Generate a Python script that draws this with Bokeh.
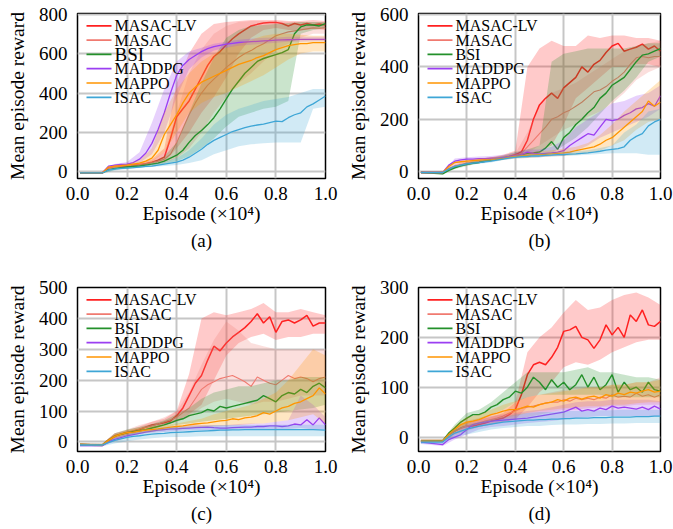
from bokeh.plotting import figure
from bokeh.models import Range1d, FixedTicker, Title, NumeralTickFormatter, Label, BoxAnnotation
from bokeh.layouts import row, column
from bokeh.embed import file_html
from bokeh.resources import INLINE

FONT = "Liberation Serif"
METHODS = ["MASAC-LV", "MASAC", "BSI", "MADDPG", "MAPPO", "ISAC"]
COLORS = ["#ff2020", "#f07a70", "#23902a", "#9b3ff2", "#ff9500", "#3ea6d6"]
WIDTHS = [1.5, 1.1, 1.4, 1.3, 1.3, 1.3]
X_TICKS = [0.0, 0.2, 0.4, 0.6, 0.8, 1.0]

# x positions (x 10^4 episodes) of the mean curves and of the shaded bands
XM = [0.01, 0.1, 0.125, 0.15, 0.175, 0.2, 0.225, 0.25, 0.275, 0.3, 0.325, 0.35, 0.375, 0.4,
      0.425, 0.45, 0.475, 0.5, 0.525, 0.55, 0.575, 0.6, 0.625, 0.65, 0.675, 0.7, 0.725, 0.75,
      0.775, 0.8, 0.825, 0.85, 0.875, 0.9, 0.925, 0.95, 0.975, 1.0]
XB = [0.01, 0.1, 0.15, 0.2, 0.25, 0.3, 0.35, 0.4, 0.45, 0.5, 0.55, 0.6, 0.65, 0.7, 0.75, 0.8,
      0.85, 0.9, 0.95, 1.0]

# ---------------- panel (a) ----------------
a_lv = [-5, -5, 22, 28, 30, 32, 35, 38, 42, 50, 60, 75, 170, 280, 320, 360, 420, 480, 540, 585,
        610, 645, 675, 700, 720, 740, 748, 755, 758, 758, 752, 740, 752, 745, 752, 745, 750, 745]
a_ms = [-5, -5, 22, 27, 30, 32, 35, 38, 42, 48, 55, 65, 90, 150, 220, 290, 350, 400, 440, 470,
        500, 530, 555, 580, 600, 615, 635, 650, 670, 690, 700, 710, 715, 720, 725, 730, 728, 730]
a_bsi = [-5, -5, 12, 18, 22, 25, 28, 30, 35, 40, 45, 55, 70, 85, 110, 150, 185, 210, 240, 275,
         320, 370, 420, 460, 500, 530, 560, 575, 585, 595, 605, 620, 700, 735, 745, 745, 740, 752]
a_ddpg = [-5, -5, 30, 35, 38, 40, 48, 65, 95, 145, 215, 300, 400, 490, 540, 570, 590, 610, 625, 635,
          642, 648, 652, 656, 658, 660, 662, 664, 666, 668, 669, 670, 671, 672, 672, 672, 672, 672]
a_ppo = [-5, -5, 25, 30, 32, 35, 40, 45, 55, 70, 110, 190, 240, 290, 350, 400, 430, 455, 470, 485,
         500, 515, 530, 545, 555, 565, 580, 590, 605, 620, 630, 640, 645, 650, 650, 655, 655, 655]
a_is = [-5, -5, 10, 15, 18, 20, 22, 25, 28, 30, 35, 40, 45, 50, 60, 75, 95, 115, 140, 160,
        175, 190, 205, 215, 225, 232, 238, 242, 250, 258, 255, 275, 290, 300, 330, 345, 365, 385]
a_lv_lo = [-8, -8, 20, 25, 30, 38, 50, 120, 200, 300, 380, 480, 600, 680, 720, 730, 720, 720, 725, 720]
a_lv_hi = [-2, -2, 35, 40, 48, 65, 120, 450, 600, 700, 750, 760, 765, 770, 770, 770, 765, 765, 770, 765]
a_ms_lo = [-8, -8, 20, 25, 28, 35, 45, 70, 120, 200, 300, 380, 450, 500, 560, 620, 650, 680, 700, 700]
a_ms_hi = [-2, -2, 32, 38, 45, 60, 100, 300, 500, 620, 700, 740, 760, 765, 765, 765, 760, 760, 760, 760]
a_bsi_lo = [-8, -8, 10, 18, 22, 30, 40, 55, 80, 120, 170, 230, 280, 300, 320, 330, 360, 700, 720, 730]
a_bsi_hi = [-2, -2, 20, 30, 38, 50, 80, 150, 300, 450, 580, 680, 720, 740, 745, 750, 755, 760, 760, 760]
a_ddpg_lo = [-8, -8, 28, 33, 45, 90, 200, 380, 520, 580, 615, 630, 640, 645, 650, 655, 660, 660, 662, 662]
a_ddpg_hi = [-2, -2, 40, 50, 100, 250, 420, 560, 610, 630, 650, 660, 670, 675, 680, 682, 685, 685, 685, 685]
a_ppo_lo = [-8, -8, 25, 30, 38, 50, 100, 200, 300, 350, 380, 400, 430, 460, 490, 530, 570, 600, 610, 610]
a_ppo_hi = [-2, -2, 35, 42, 60, 120, 300, 420, 500, 560, 600, 630, 650, 670, 690, 700, 700, 695, 690, 690]
a_is_lo = [-8, -8, 8, 15, 20, 25, 30, 35, 45, 60, 90, 110, 130, 140, 145, 150, 150, 150, 320, 330]
a_is_hi = [-2, -2, 20, 25, 32, 40, 50, 70, 110, 170, 240, 290, 320, 340, 360, 370, 380, 400, 420, 420]

# ---------------- panel (b) ----------------
b_lv = [-3, -3, 10, 20, 25, 30, 33, 36, 40, 45, 48, 52, 58, 65, 75, 120, 200, 255, 280, 300,
        280, 320, 340, 360, 400, 380, 410, 425, 455, 480, 490, 460, 468, 475, 487, 468, 480, 460]
b_ms = [-3, -3, 12, 22, 27, 30, 33, 36, 40, 44, 48, 52, 56, 60, 70, 95, 120, 145, 170, 200,
        210, 225, 235, 250, 265, 285, 305, 312, 325, 345, 360, 380, 410, 435, 440, 435, 440, 440]
b_bsi = [-3, -8, 5, 15, 22, 28, 32, 35, 40, 44, 48, 52, 56, 60, 65, 70, 72, 75, 90, 115,
         85, 130, 150, 180, 200, 225, 245, 280, 300, 330, 345, 360, 390, 420, 445, 450, 460, 470]
b_ddpg = [-3, -3, 25, 40, 45, 48, 48, 50, 50, 52, 52, 55, 58, 62, 65, 75, 70, 68, 70, 72,
          75, 80, 100, 115, 130, 145, 140, 170, 200, 195, 200, 215, 225, 240, 245, 260, 250, 290]
b_ppo = [-3, -3, 20, 35, 38, 40, 42, 44, 45, 46, 48, 50, 55, 58, 60, 62, 64, 65, 66, 68,
         70, 72, 75, 80, 85, 90, 95, 105, 120, 130, 150, 170, 190, 210, 230, 270, 250, 265]
b_is = [-3, -3, 10, 20, 25, 30, 33, 35, 38, 40, 44, 48, 52, 55, 57, 58, 60, 60, 62, 63,
        65, 65, 67, 68, 70, 72, 75, 78, 82, 85, 88, 95, 120, 135, 145, 175, 190, 200]
b_lv_lo = [-6, -6, 15, 25, 35, 40, 50, 55, 60, 80, 100, 180, 280, 320, 360, 400, 400, 410, 410, 400]
b_lv_hi = [0, 0, 28, 40, 48, 55, 65, 80, 400, 470, 500, 480, 480, 520, 510, 520, 520, 510, 510, 500]
b_ms_lo = [-6, -6, 15, 25, 35, 40, 48, 55, 70, 100, 130, 160, 180, 210, 230, 260, 300, 350, 380, 400]
b_ms_hi = [0, 0, 28, 38, 45, 52, 60, 70, 150, 250, 300, 320, 340, 370, 400, 430, 460, 480, 490, 500]
b_bsi_lo = [-6, -10, 10, 22, 32, 40, 48, 55, 60, 65, 70, 100, 130, 170, 220, 270, 310, 360, 420, 440]
b_bsi_hi = [0, -2, 22, 35, 45, 52, 62, 75, 85, 100, 420, 450, 460, 470, 470, 470, 470, 480, 490, 490]
b_ddpg_lo = [-6, -6, 30, 40, 42, 45, 48, 55, 55, 55, 60, 60, 80, 100, 130, 150, 170, 190, 210, 240]
b_ddpg_hi = [0, 0, 50, 55, 58, 60, 65, 72, 85, 85, 95, 120, 170, 200, 230, 260, 270, 290, 300, 330]
b_ppo_lo = [-6, -6, 30, 35, 38, 40, 45, 50, 52, 55, 58, 60, 65, 70, 80, 100, 120, 160, 190, 200]
b_ppo_hi = [0, 0, 40, 45, 50, 55, 60, 68, 72, 78, 82, 88, 95, 110, 140, 180, 230, 270, 310, 350]
b_is_lo = [-6, -6, 15, 25, 30, 35, 45, 50, 52, 55, 58, 60, 62, 65, 68, 70, 70, 70, 65, 65]
b_is_hi = [0, 0, 25, 35, 42, 48, 58, 62, 65, 70, 72, 75, 78, 82, 90, 100, 150, 180, 230, 240]

# ---------------- panel (c) ----------------
c_lv = [-8, -10, 5, 20, 25, 30, 35, 40, 48, 55, 58, 62, 68, 85, 110, 150, 190, 215, 265, 310,
        295, 320, 340, 355, 370, 390, 415, 385, 405, 355, 390, 395, 385, 395, 410, 375, 385, 385]
c_ms = [-8, -10, 8, 20, 26, 32, 36, 42, 48, 52, 58, 65, 72, 80, 95, 110, 140, 170, 185, 195,
        205, 210, 215, 205, 195, 180, 210, 200, 190, 185, 200, 215, 205, 210, 205, 195, 205, 210]
c_bsi = [-8, -10, 5, 18, 25, 30, 33, 36, 40, 45, 50, 55, 62, 70, 75, 85, 90, 95, 105, 100,
         115, 110, 115, 120, 125, 130, 135, 150, 140, 130, 150, 160, 155, 170, 160, 180, 190, 175]
c_ddpg = [-12, -12, 0, 8, 14, 20, 24, 28, 32, 35, 38, 40, 42, 42, 44, 45, 46, 47, 48, 46,
          45, 45, 46, 47, 48, 48, 50, 50, 52, 52, 50, 52, 58, 55, 72, 55, 78, 55]
c_ppo = [-8, -10, 5, 18, 25, 30, 32, 35, 38, 40, 42, 45, 48, 50, 52, 55, 58, 60, 62, 65,
         68, 70, 75, 72, 78, 80, 85, 95, 90, 100, 110, 115, 125, 130, 140, 150, 175, 155]
c_is = [-10, -10, -2, 5, 10, 15, 18, 20, 23, 25, 27, 28, 30, 31, 32, 33, 34, 35, 36, 37,
        38, 38, 39, 39, 40, 40, 40, 40, 40, 40, 40, 40, 40, 40, 40, 40, 39, 38]
c_lv_lo = [-12, -14, 12, 22, 32, 45, 55, 65, 90, 120, 200, 280, 320, 340, 350, 330, 340, 340, 350, 350]
c_lv_hi = [-5, -6, 28, 38, 50, 65, 75, 100, 220, 400, 420, 410, 420, 430, 450, 420, 420, 430, 420, 410]
c_ms_lo = [-12, -14, 12, 25, 35, 45, 55, 65, 80, 110, 130, 140, 130, 120, 130, 130, 140, 150, 150, 150]
c_ms_hi = [-5, -6, 28, 40, 55, 65, 80, 100, 160, 250, 330, 390, 360, 320, 310, 300, 300, 300, 300, 300]
c_bsi_lo = [-12, -14, 10, 22, 30, 35, 45, 55, 60, 65, 70, 75, 80, 85, 90, 95, 100, 105, 110, 120]
c_bsi_hi = [-5, -6, 28, 40, 48, 58, 70, 90, 110, 140, 160, 170, 180, 180, 190, 200, 200, 210, 210, 210]
c_ddpg_lo = [-15, -15, 2, 15, 25, 30, 32, 35, 38, 38, 38, 38, 40, 40, 42, 42, 42, 45, 40, 40]
c_ddpg_hi = [-8, -8, 15, 25, 35, 42, 48, 50, 55, 55, 55, 55, 58, 60, 60, 65, 70, 150, 120, 80]
c_ppo_lo = [-12, -14, 12, 22, 28, 32, 38, 42, 45, 48, 50, 52, 55, 58, 60, 65, 70, 80, 90, 60]
c_ppo_hi = [-5, -6, 25, 38, 45, 50, 55, 60, 68, 75, 90, 100, 110, 120, 140, 160, 200, 250, 300, 280]
c_is_lo = [-14, -14, -5, 2, 8, 12, 15, 16, 17, 18, 18, 18, 18, 18, 18, 18, 18, 18, 18, 18]
c_is_hi = [-6, -6, 12, 25, 32, 38, 45, 48, 50, 52, 54, 55, 55, 55, 55, 56, 56, 56, 56, 56]

# ---------------- panel (d) ----------------
d_lv = [-8, -8, 5, 12, 18, 22, 22, 25, 28, 32, 35, 38, 45, 55, 85, 125, 145, 150, 145, 160,
        180, 212, 215, 222, 200, 195, 178, 195, 225, 205, 220, 200, 245, 232, 255, 225, 222, 232]
d_ms = [-8, -8, 5, 12, 18, 22, 25, 28, 32, 35, 38, 42, 48, 52, 58, 60, 62, 65, 68, 70,
        70, 75, 72, 78, 75, 78, 75, 80, 78, 85, 80, 82, 80, 88, 82, 85, 80, 85]
d_bsi = [-8, -8, 8, 18, 30, 38, 45, 45, 50, 60, 65, 75, 80, 92, 88, 100, 120, 110, 95, 115,
         100, 110, 95, 105, 125, 100, 120, 95, 105, 125, 90, 110, 95, 100, 90, 110, 95, 92]
d_ddpg = [-10, -15, -5, 0, 5, 15, 25, 28, 30, 32, 33, 34, 35, 36, 37, 38, 40, 42, 44, 46,
          48, 50, 55, 60, 52, 55, 52, 58, 55, 62, 58, 60, 58, 56, 60, 55, 62, 56]
d_ppo = [-8, -8, 5, 15, 25, 30, 32, 35, 40, 45, 48, 52, 55, 55, 58, 62, 60, 65, 68, 70,
         75, 72, 78, 80, 76, 80, 82, 78, 85, 82, 88, 85, 90, 88, 92, 95, 90, 92]
d_is = [-10, -10, 0, 8, 12, 16, 19, 22, 24, 26, 28, 30, 31, 32, 33, 34, 34, 35, 35, 36,
        36, 37, 37, 38, 38, 38, 39, 39, 39, 40, 40, 40, 40, 41, 41, 41, 42, 42]
d_lv_lo = [-10, -10, 5, 15, 20, 25, 30, 35, 60, 90, 110, 140, 150, 145, 155, 170, 180, 190, 195, 195]
d_lv_hi = [-5, -5, 20, 30, 35, 40, 48, 70, 170, 200, 220, 250, 275, 255, 260, 275, 285, 290, 280, 265]
d_ms_lo = [-10, -10, 2, 12, 20, 25, 30, 35, 40, 45, 50, 55, 55, 58, 60, 62, 62, 65, 65, 65]
d_ms_hi = [-5, -5, 20, 32, 38, 45, 55, 70, 80, 85, 90, 95, 100, 100, 100, 105, 105, 110, 110, 120]
d_bsi_lo = [-10, -10, 10, 25, 35, 45, 55, 70, 80, 85, 85, 85, 85, 85, 85, 80, 80, 80, 80, 80]
d_bsi_hi = [-5, -5, 25, 48, 55, 70, 90, 110, 130, 130, 130, 130, 135, 140, 130, 130, 125, 120, 120, 115]
d_ddpg_lo = [-14, -18, -5, 5, 15, 20, 22, 25, 28, 30, 32, 35, 38, 40, 42, 42, 42, 42, 42, 42]
d_ddpg_hi = [-6, -8, 8, 25, 35, 42, 45, 48, 52, 55, 60, 65, 70, 72, 72, 75, 75, 75, 75, 72]
d_ppo_lo = [-10, -10, 8, 20, 25, 32, 38, 42, 48, 52, 55, 58, 60, 62, 62, 65, 65, 68, 70, 70]
d_ppo_hi = [-5, -5, 22, 40, 45, 55, 65, 72, 80, 85, 88, 92, 95, 100, 100, 105, 105, 110, 110, 115]
d_is_lo = [-14, -14, 0, 5, 10, 15, 18, 20, 22, 22, 24, 25, 25, 26, 26, 27, 27, 28, 28, 28]
d_is_hi = [-6, -6, 15, 25, 30, 35, 40, 45, 48, 50, 50, 52, 52, 52, 54, 54, 55, 55, 55, 55]

PANELS = [
    dict(tag="(a)", yr=(-33, 803), yticks=[0, 200, 400, 600, 800],
         leg_sizes=[16, 16, 19, 16, 16, 16],
         means=[a_lv, a_ms, a_bsi, a_ddpg, a_ppo, a_is],
         los=[a_lv_lo, a_ms_lo, a_bsi_lo, a_ddpg_lo, a_ppo_lo, a_is_lo],
         his=[a_lv_hi, a_ms_hi, a_bsi_hi, a_ddpg_hi, a_ppo_hi, a_is_hi]),
    dict(tag="(b)", yr=(-26, 604), yticks=[0, 200, 400, 600],
         leg_sizes=[16] * 6,
         means=[b_lv, b_ms, b_bsi, b_ddpg, b_ppo, b_is],
         los=[b_lv_lo, b_ms_lo, b_bsi_lo, b_ddpg_lo, b_ppo_lo, b_is_lo],
         his=[b_lv_hi, b_ms_hi, b_bsi_hi, b_ddpg_hi, b_ppo_hi, b_is_hi]),
    dict(tag="(c)", yr=(-31, 500), yticks=[0, 100, 200, 300, 400, 500],
         leg_sizes=[16] * 6,
         means=[c_lv, c_ms, c_bsi, c_ddpg, c_ppo, c_is],
         los=[c_lv_lo, c_ms_lo, c_bsi_lo, c_ddpg_lo, c_ppo_lo, c_is_lo],
         his=[c_lv_hi, c_ms_hi, c_bsi_hi, c_ddpg_hi, c_ppo_hi, c_is_hi]),
    dict(tag="(d)", yr=(-29, 300), yticks=[0, 100, 200, 300],
         leg_sizes=[16] * 6,
         means=[d_lv, d_ms, d_bsi, d_ddpg, d_ppo, d_is],
         los=[d_lv_lo, d_ms_lo, d_bsi_lo, d_ddpg_lo, d_ppo_lo, d_is_lo],
         his=[d_lv_hi, d_ms_hi, d_bsi_hi, d_ddpg_hi, d_ppo_hi, d_is_hi]),
]

# legend geometry, in screen pixels measured from the plot frame's top-left corner
LEG_LINE_X0, LEG_LINE_X1, LEG_TEXT_X = 9, 34, 37
LEG_ROW0, LEG_ROW_STEP = 12.3, 14.3


def make_panel(spec, width, height, b_left, b_right, b_top, b_bottom):
    frame_h = height - b_top - b_bottom
    p = figure(width=width, height=height, output_backend="svg", toolbar_location=None, tools="",
               x_range=Range1d(0.0, 1.0), y_range=Range1d(*spec["yr"]),
               min_border_left=b_left, min_border_right=b_right,
               min_border_top=b_top, min_border_bottom=b_bottom)
    p.background_fill_color = "white"
    p.border_fill_color = "white"
    p.outline_line_color = "black"
    p.outline_line_width = 1.5
    p.outline_line_alpha = 1.0

    p.xaxis.ticker = FixedTicker(ticks=X_TICKS)
    p.xaxis.formatter = NumeralTickFormatter(format="0.0")
    p.yaxis.ticker = FixedTicker(ticks=spec["yticks"])
    p.xgrid.ticker = p.xaxis[0].ticker
    p.ygrid.ticker = p.yaxis[0].ticker
    p.grid.grid_line_color = "#c6c6c6"
    p.grid.grid_line_width = 2

    for ax in (p.xaxis[0], p.yaxis[0]):
        ax.axis_line_color = None
        ax.major_tick_line_color = None
        ax.minor_tick_line_color = None
        ax.major_tick_out = 0
        ax.major_tick_in = 0
        ax.major_label_text_font = FONT
        ax.major_label_text_font_size = "19px"
        ax.major_label_text_color = "black"
        ax.axis_label_text_font = FONT
        ax.axis_label_text_font_size = "19.5px"
        ax.axis_label_text_font_style = "normal"
        ax.axis_label_text_color = "black"
    p.xaxis.axis_label = "Episode (\u00d710\u2074)"
    p.yaxis.axis_label = "Mean episode reward"
    p.xaxis.major_label_standoff = 8
    p.xaxis.axis_label_standoff = 0
    p.yaxis.major_label_standoff = 10
    p.yaxis.axis_label_standoff = 8

    for i, name in enumerate(METHODS):
        p.varea(x=XB, y1=spec["los"][i], y2=spec["his"][i], fill_color=COLORS[i], fill_alpha=0.24)
        p.line(x=XM, y=spec["means"][i], line_color=COLORS[i], line_width=WIDTHS[i])

    # legend (drawn by hand so that rows can sit as tightly as in the reference)
    for i, name in enumerate(METHODS):
        yc = frame_h - (LEG_ROW0 + LEG_ROW_STEP * i)
        p.add_layout(BoxAnnotation(left=LEG_LINE_X0, right=LEG_LINE_X1, bottom=yc - 0.85, top=yc + 0.85,
                                   left_units="screen", right_units="screen",
                                   bottom_units="screen", top_units="screen",
                                   fill_color=COLORS[i], fill_alpha=1.0, line_color=None,
                                   level="overlay"))
        p.add_layout(Label(x=LEG_TEXT_X, y=yc, x_units="screen", y_units="screen", text=name,
                           text_font=FONT, text_font_size=f"{spec['leg_sizes'][i]}px",
                           text_baseline="middle", text_align="left", text_color="black",
                           level="overlay"))

    cap = Title(text=spec["tag"], align="center", text_font=FONT, text_font_size="19px",
                text_font_style="normal", text_color="black", standoff=2, offset=0)
    p.add_layout(cap, "below")
    return p


pa = make_panel(PANELS[0], 344, 270, 77, 19, 13, 92)
pb = make_panel(PANELS[1], 329, 270, 69, 13, 13, 92)
pc = make_panel(PANELS[2], 344, 259, 77, 19, 17, 78)
pd = make_panel(PANELS[3], 329, 259, 69, 13, 17, 78)

layout = column(row(pa, pb), row(pc, pd))

open("out.html", "w").write(file_html(layout, INLINE))
